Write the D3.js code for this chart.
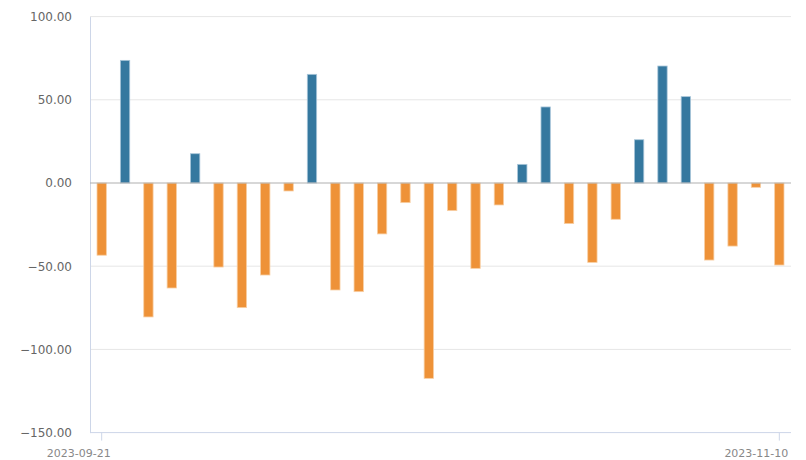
<!DOCTYPE html>
<html><head><meta charset="utf-8">
<script src="https://cdn.jsdelivr.net/npm/d3@7"></script>
<style>html,body{margin:0;padding:0;background:#fff;}svg{display:block;}</style>
</head><body>
<svg id="c" width="806" height="460"></svg>
<script>
const dates = ["2023-09-21","2023-09-22","2023-09-25","2023-09-26","2023-09-27","2023-09-28",
  "2023-10-09","2023-10-10","2023-10-11","2023-10-12","2023-10-13","2023-10-16","2023-10-17",
  "2023-10-18","2023-10-19","2023-10-20","2023-10-23","2023-10-24","2023-10-25","2023-10-26",
  "2023-10-27","2023-10-30","2023-10-31","2023-11-01","2023-11-02","2023-11-03","2023-11-06",
  "2023-11-07","2023-11-08","2023-11-10"];
const values = [-43.4,73.7,-80.5,-63.1,17.6,-50.5,-74.9,-55.3,-4.8,65.3,-64.3,-65.3,-30.6,-11.8,
  -117.4,-16.6,-51.3,-13.2,11.2,45.7,-24.4,-47.7,-21.8,26.0,70.3,51.9,-46.3,-37.9,-2.6,-49.3];
const yTicks = [-150,-100,-50,0,50,100];
const xTickLabels = ["2023-09-21","2023-11-10"];

const svg = d3.select("#c");
const L = 90, R = 791, T = 16.6, B = 432.6;
const x = d3.scaleBand().domain(dates).range([L, R]).paddingInner(0.6).paddingOuter(0.3);
const y = d3.scaleLinear().domain([-150, 100]).range([B, T]);
const fmt = d3.format(".2f");

// grid
svg.append("g").selectAll("line").data(yTicks.filter(d => d !== 0 && d !== -150)).join("line")
  .attr("x1", L).attr("x2", R).attr("y1", d => y(d)).attr("y2", d => y(d))
  .attr("stroke", "#e6e6e6").attr("stroke-width", 1);

// y labels
const yAxis = d3.axisLeft(y).tickValues(yTicks).tickFormat(fmt).tickSize(0).tickPadding(18);
const gy = svg.append("g").attr("transform", `translate(${L},0)`).call(yAxis);
gy.select(".domain").attr("stroke", "#cdd6e8");
gy.selectAll("text").attr("fill", "#666").style("font-family", "DejaVu Sans, Verdana, sans-serif").style("font-size", "12px");

// bars
svg.append("g").selectAll("rect").data(values).join("rect")
  .attr("x", (d, i) => x(dates[i]))
  .attr("width", x.bandwidth())
  .attr("y", d => y(Math.max(0, d)))
  .attr("height", d => Math.abs(y(d) - y(0)))
  .attr("fill", d => d >= 0 ? "#35789f" : "#ee9238")
  .attr("stroke", d => d >= 0 ? "#a9c6da" : "#f8cfa4")
  .attr("stroke-width", 0.8);

// zero line
svg.append("line").attr("x1", L).attr("x2", R).attr("y1", y(0)).attr("y2", y(0))
  .attr("stroke", "#b0b0b0").attr("stroke-width", 1.2);

// x axis
svg.append("line").attr("x1", L).attr("x2", R).attr("y1", B).attr("y2", B)
  .attr("stroke", "#cdd6e8").attr("stroke-width", 1);
const gx = svg.append("g");
xTickLabels.forEach(lbl => {
  const cx = x(lbl) + x.bandwidth() / 2;
  gx.append("line").attr("x1", cx).attr("x2", cx).attr("y1", B).attr("y2", B + 8)
    .attr("stroke", "#cdd6e8");
  gx.append("text").attr("x", cx + 9).attr("y", B + 24).attr("text-anchor", "end")
    .attr("fill", "#888").style("font-family", "DejaVu Sans, Verdana, sans-serif").style("font-size", "11px")
    .text(lbl);
});
</script>
</body></html>
